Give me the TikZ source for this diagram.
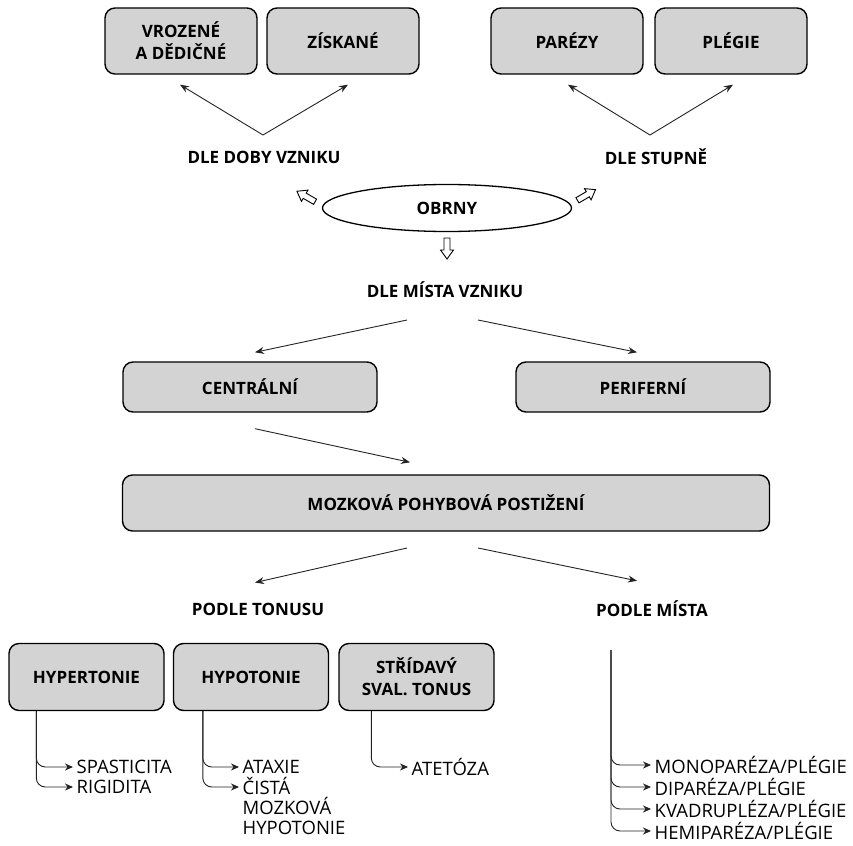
\documentclass[tikz,border=0pt]{standalone}
\usepackage{fontspec}
\setmainfont{Open Sans}
\usetikzlibrary{shapes.geometric,arrows.meta,calc}
\definecolor{boxgray}{RGB}{211,211,211}
\definecolor{linegray}{RGB}{35,35,35}
\begin{document}
\begin{tikzpicture}[x=1pt,y=-1pt,
  gbox/.style={draw=black,line width=1.4pt,fill=boxgray,rounded corners=10pt,
    font=\bfseries\fontsize{17}{22}\selectfont,align=center,inner sep=0pt},
  lbl/.style={font=\bfseries\fontsize{17}{20}\selectfont,inner sep=1pt},
  leaf/.style={font=\fontsize{18.5}{20}\selectfont,inner sep=3.5pt,anchor=west,align=left},
  conn/.style={draw=linegray,line width=0.9pt,-{Stealth[length=9pt,width=7pt]}},
  tree/.style={draw=linegray,line width=0.9pt,rounded corners=9pt,-{Stealth[length=8pt,width=7pt]}},
  hollow/.style={draw=black,line width=0.9pt,fill=white,line join=miter}]
\useasboundingbox (0,0) rectangle (853,845);

% top boxes
\node[gbox,minimum width=152pt,minimum height=66pt] (vroz) at (181,41) {VROZENÉ\\A DĚDIČNÉ};
\node[gbox,minimum width=152pt,minimum height=66pt] (zisk) at (343,41) {ZÍSKANÉ};
\node[gbox,minimum width=152pt,minimum height=66pt] (parezy) at (567,41) {PARÉZY};
\node[gbox,minimum width=152pt,minimum height=66pt] (plegie) at (731,41) {PLÉGIE};

\node[lbl] (doby) at (264,157) {DLE DOBY VZNIKU};
\node[lbl] (stupne) at (656,157) {DLE STUPNĚ};

\coordinate (dobyA) at (263,135);
\coordinate (stupA) at (650,135);
\draw[conn] (dobyA) -- ($(vroz.south)+(-1,10)$);
\draw[conn] (dobyA) -- ($(zisk.south)+(5,10)$);
\draw[conn] (stupA) -- ($(parezy.south)+(1,10)$);
\draw[conn] (stupA) -- ($(plegie.south)+(2,10)$);

% ellipse
\node[ellipse,draw=black,line width=1.3pt,minimum width=249pt,minimum height=47pt,
  inner sep=0pt,font=\bfseries\fontsize{17}{20}\selectfont] (obrny) at (447,208) {OBRNY};
\foreach \c/\a in {{(306,196.5)}/150,{(586.5,195)}/30.5,{(447,248.5)}/-90}{
  \draw[hollow,shift={\c},rotate=\a]
    (-10.5,-3) -- (1.5,-3) -- (1.5,-6.5) -- (10.5,0) -- (1.5,6.5) -- (1.5,3) -- (-10.5,3) -- cycle;
}

\node[lbl] (misto) at (445,290) {DLE MÍSTA VZNIKU};

% central / peripheral
\node[gbox,minimum width=254pt,minimum height=50pt] (central) at (250,387) {CENTRÁLNÍ};
\node[gbox,minimum width=254pt,minimum height=50pt] (perif) at (643,387) {PERIFERNÍ};
\coordinate (mistoL) at (407,320);
\coordinate (mistoR) at (478,320);
\draw[conn] (mistoL) -- ($(central.north)+(5,-9)$);
\draw[conn] (mistoR) -- ($(perif.north)+(-6,-9)$);

% brain box
\node[gbox,minimum width=647pt,minimum height=56pt] (mozk) at (446,503) {MOZKOVÁ POHYBOVÁ POSTIŽENÍ};
\draw[conn] ($(central.south)+(5,16)$) -- ($(mozk.north)+(-36,-12)$);

\node[lbl] (tonus) at (258,609) {PODLE TONUSU};
\node[lbl] (mista) at (652,609) {PODLE MÍSTA};
\coordinate (mozkL) at (407,548);
\coordinate (mozkR) at (478,548);
\draw[conn] (mozkL) -- ($(tonus.north)+(-3,-19)$);
\draw[conn] (mozkR) -- ($(mista.north)+(-15,-19)$);

% tone boxes
\node[gbox,minimum width=155pt,minimum height=67pt] (hyper) at (86.5,677) {HYPERTONIE};
\node[gbox,minimum width=155pt,minimum height=67pt] (hypo) at (251,677) {HYPOTONIE};
\node[gbox,minimum width=155pt,minimum height=67pt] (strid) at (416.5,677) {STŘÍDAVÝ\\SVAL. TONUS};

\node[leaf] (spast) at (73,767) {SPASTICITA};
\node[leaf] (rigid) at (73,787) {RIGIDITA};
\node[leaf] (ataxie) at (239,767) {ATAXIE};
\node[leaf,anchor=north west] (cista) at (239,774) {ČISTÁ\\MOZKOVÁ\\HYPOTONIE};
\node[leaf] (atet) at (408,767) {ATETÓZA};

\coordinate (hyperT) at ($(hyper.south west)+(28,0)$);
\coordinate (hypoT) at ($(hypo.south west)+(30,0)$);
\coordinate (stridT) at ($(strid.south west)+(33,0)$);
\draw[tree] (hyperT) |- (spast.west);
\draw[tree] (hyperT) |- (rigid.west);
\draw[tree] (hypoT) |- (ataxie.west);
\draw[tree] (hypoT) |- ($(cista.north west)+(0,13)$);
\draw[tree] (stridT) |- (atet.west);

% place list
\node[leaf] (mono) at (651,765) {MONOPARÉZA/PLÉGIE};
\node[leaf] (dipar) at (651,787) {DIPARÉZA/PLÉGIE};
\node[leaf] (kvadr) at (651,809) {KVADRUPLÉZA/PLÉGIE};
\node[leaf] (hemi) at (651,831) {HEMIPARÉZA/PLÉGIE};
\coordinate (mistaT) at (611,650);
\draw[tree] (mistaT) |- (mono.west);
\draw[tree] (mistaT) |- (dipar.west);
\draw[tree] (mistaT) |- (kvadr.west);
\draw[tree] (mistaT) |- (hemi.west);
\end{tikzpicture}
\end{document}
